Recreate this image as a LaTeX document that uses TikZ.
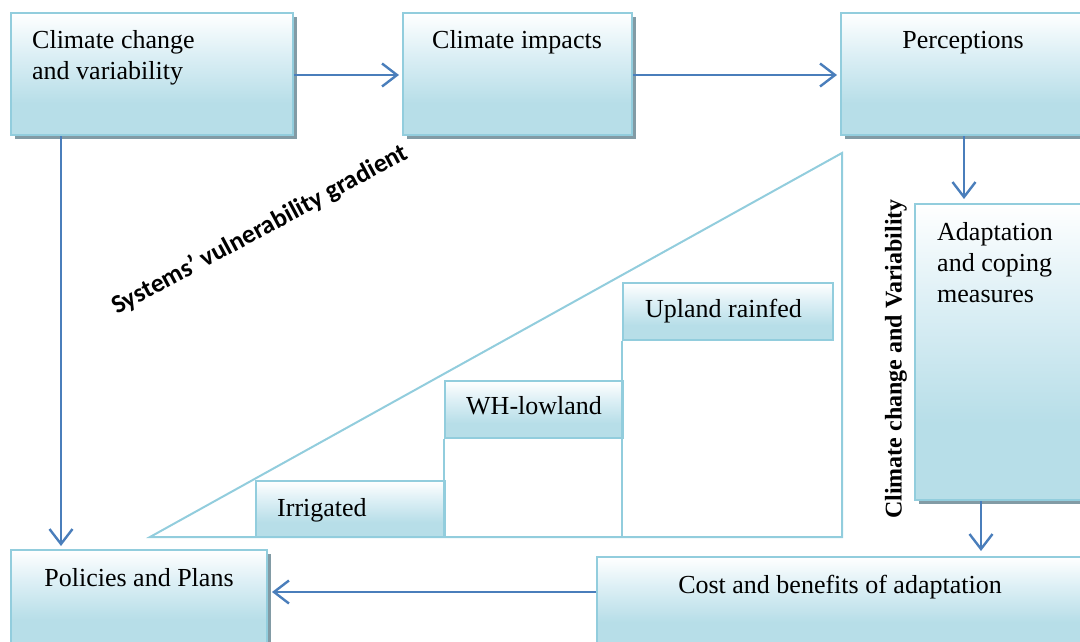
\documentclass[tikz,border=0pt]{standalone}
\usepackage{fontspec}
\setmainfont{Liberation Serif}
\newfontfamily\calib{Carlito}
\usetikzlibrary{arrows.meta,shadows}
\definecolor{bordc}{RGB}{146,205,221}
\definecolor{boxbot}{RGB}{183,222,232}
\definecolor{boxmid}{RGB}{220,239,245}
\definecolor{arrc}{RGB}{74,126,187}
\definecolor{shadc}{RGB}{130,155,165}
\pgfdeclareverticalshading{boxshade}{100bp}{color(0bp)=(boxbot); color(25bp)=(boxbot); color(38bp)=(boxbot); color(58bp)=(boxmid); color(75bp)=(white); color(100bp)=(white)}
\tikzset{
 bigbox/.style={draw=bordc, line width=2pt, shading=boxshade, rectangle, inner sep=0pt,
   drop shadow={shadow xshift=3.5pt, shadow yshift=-4pt, fill=shadc, opacity=1}},
 stepbox/.style={draw=bordc, line width=2pt, shading=boxshade, rectangle, inner sep=0pt},
 lbl/.style={font=\fontsize{26}{31}\selectfont, inner sep=0pt, align=left},
 arr/.style={draw=arrc, line width=2.4pt, -{Straight Barb[length=15pt,width=23pt,line width=2.4pt]}},
 tri/.style={draw=bordc, line width=2pt},
}
\begin{document}
\begin{tikzpicture}[x=1pt,y=-1pt]
\useasboundingbox (0,0) rectangle (1080,642);
% triangle
\coordinate (t1) at (150,537);
\coordinate (t2) at (842,153);
\coordinate (t3) at (842,537);
\draw[tri, line join=miter] (t1) -- (t2) -- (t3) -- cycle;
% main boxes
\node[bigbox, minimum width=282pt, minimum height=122pt] (cc) at (152,74) {};
\node[bigbox, minimum width=229pt, minimum height=122pt] (ci) at (517.5,74) {};
\node[bigbox, minimum width=246pt, minimum height=122pt] (pe) at (964,74) {};
\node[bigbox, minimum width=172pt, minimum height=296pt] (ad) at (1001,352) {};
\node[bigbox, minimum width=256pt, minimum height=94pt] (pp) at (139,597) {};
\node[bigbox, minimum width=490pt, minimum height=88pt] (cb) at (842,601) {};
% step boxes
\node[stepbox, minimum width=189pt, minimum height=56pt] (ir) at (350.5,509) {};
\node[stepbox, minimum width=178pt, minimum height=57pt] (wh) at (534,409.5) {};
\node[stepbox, minimum width=210pt, minimum height=57pt] (up) at (728,311.5) {};
\draw[tri] (wh.south west) -- (wh.south west |- t1);
\draw[tri] (up.south west) -- (up.south west |- t1);
% arrows
\coordinate (l1) at (61,0);
\coordinate (l2) at (981,0);
\coordinate (l3) at (0,592);
\draw[arr, shorten >=3pt] ([yshift=-1pt]cc.east) -- ([yshift=-1pt]ci.west);
\draw[arr, shorten >=3pt] ([yshift=-1pt]ci.east) -- ([yshift=-1pt]pe.west);
\draw[arr, shorten >=4pt] (pe.south) -- (pe.south |- ad.north);
\draw[arr, shorten >=3pt] (l1 |- cc.south) -- (l1 |- pp.north);
\draw[arr, shorten >=5pt] (l2 |- ad.south) -- (l2 |- cb.north);
\draw[arr, shorten >=4pt] (cb.west |- l3) -- (pp.east |- l3);
% texts
\node[lbl, anchor=base west] (tcc) at (32,80) {Climate change\\and variability};
\node[lbl, anchor=base] (tci) at (517,49) {Climate impacts};
\node[lbl, anchor=base] (tpe) at (963,49) {Perceptions};
\node[lbl, anchor=base west] (tad) at (937,302) {Adaptation\\and coping\\measures};
\node[lbl, anchor=base] (tpp) at (139,586) {Policies and Plans};
\node[lbl, anchor=base] (tcb) at (840,593) {Cost and benefits of adaptation};
\node[lbl, anchor=base west] (tir) at (277,516) {Irrigated};
\node[lbl, anchor=base west] (twh) at (466,414) {WH-lowland};
\node[lbl, anchor=base west] (tup) at (645,317) {Upland rainfed};
\node[font=\bfseries\fontsize{24}{28}\selectfont, rotate=90, inner sep=0pt] (cv) at (896,359) {Climate change and Variability};
\node[font=\calib\bfseries\fontsize{26}{30}\selectfont, rotate=28.2, inner sep=0pt] (sv) at (260,230) {Systems’ vulnerability gradient};
\end{tikzpicture}
\end{document}
